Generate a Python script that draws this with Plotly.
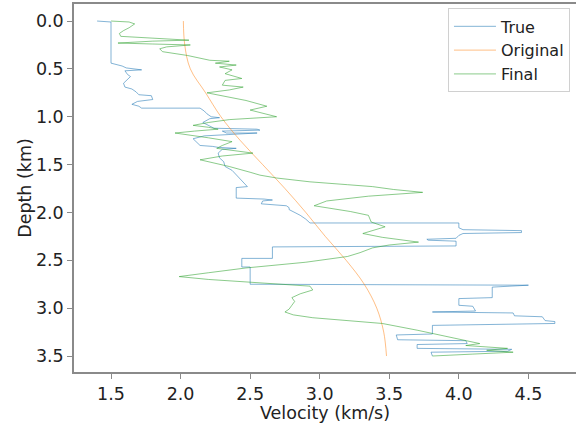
import plotly.graph_objects as go

# Original (initial) velocity model
orig_depth = [0, 0.25, 0.5, 0.75, 1.0, 1.25, 1.5, 1.75, 2.0, 2.25, 2.5, 2.75, 3.0, 3.25, 3.5]
orig_vel = [2.02, 2.03, 2.07, 2.18, 2.29, 2.43, 2.59, 2.75, 2.90, 3.04, 3.19, 3.32, 3.41, 3.46, 3.48]

# True velocity profile
true_pts = [(0.00,1.40),(0.01,1.50),(0.44,1.50),(0.47,1.58),(0.49,1.61),(0.51,1.72),(0.52,1.60),
            (0.56,1.62),(0.58,1.64),(0.62,1.61),(0.65,1.59),(0.69,1.60),(0.71,1.65),(0.74,1.68),
            (0.77,1.70),(0.78,1.79),(0.82,1.80),(0.84,1.69),(0.87,1.65),(0.89,1.70),(0.91,1.72),
            (0.91,2.14),(0.94,2.17),(0.97,2.19),(1.00,2.22),(1.01,2.28),(1.02,2.21),(1.06,2.16),
            (1.09,2.20),(1.12,2.24),(1.13,2.55),(1.14,2.57),(1.15,2.30),(1.17,2.33),(1.17,2.55),
            (1.18,2.45),(1.20,2.17),(1.23,2.09),(1.27,2.12),(1.30,2.14),(1.31,2.23),(1.32,2.27),
            (1.33,2.40),(1.34,2.30),(1.38,2.27),(1.43,2.28),(1.47,2.31),(1.52,2.32),(1.56,2.37),
            (1.62,2.41),(1.68,2.45),(1.73,2.48),(1.74,2.40),(1.85,2.40),(1.86,2.60),(1.87,2.66),
            (1.88,2.59),(1.91,2.58),(1.93,2.76),(1.95,2.78),(1.97,2.78),(1.99,2.81),(2.03,2.86),
            (2.07,2.90),(2.11,2.93),(2.11,4.00),(2.16,4.00),(2.18,4.03),(2.19,4.45),(2.21,4.45),
            (2.22,4.03),(2.24,4.00),(2.27,3.98),(2.28,3.77),(2.29,3.78),(2.30,3.98),(2.35,3.98),
            (2.36,2.66),(2.48,2.66),(2.48,2.44),(2.57,2.44),(2.57,2.50),(2.75,2.50),(2.76,4.50),
            (2.78,4.24),(2.89,4.24),(2.90,4.00),(2.97,4.00),(2.98,4.10),(3.03,4.12),(3.04,3.81),
            (3.05,4.39),(3.08,4.40),(3.09,4.60),(3.13,4.62),(3.14,4.69),(3.16,4.69),(3.18,3.81),
            (3.27,3.81),(3.28,3.55),(3.33,3.56),(3.34,4.05),(3.37,4.06),(3.38,3.70),(3.42,3.70),
            (3.43,4.38),(3.45,4.35),(3.46,3.80),(3.50,3.81)]
true_depth = [p[0] for p in true_pts]
true_vel = [p[1] for p in true_pts]

# Final (inverted) velocity profile
final_pts = [(0.00,1.50),(0.01,1.63),(0.03,1.67),(0.07,1.63),(0.10,1.59),(0.13,1.56),(0.16,1.57),
             (0.19,2.02),(0.20,2.06),(0.21,1.80),(0.23,1.55),(0.24,1.80),(0.25,2.07),(0.27,1.90),
             (0.29,1.85),(0.32,1.87),(0.36,2.05),(0.41,2.21),(0.42,2.35),(0.44,2.25),(0.46,2.40),
             (0.48,2.28),(0.51,2.37),(0.55,2.32),(0.60,2.44),(0.62,2.32),(0.67,2.30),(0.69,2.45),
             (0.72,2.35),(0.75,2.19),(0.79,2.33),(0.83,2.47),(0.89,2.62),(0.93,2.50),(1.00,2.69),
             (1.03,2.35),(1.06,2.20),(1.09,2.09),(1.11,2.20),(1.13,2.27),(1.15,2.10),(1.17,1.96),
             (1.22,2.20),(1.26,2.37),(1.30,2.30),(1.33,2.26),(1.38,2.52),(1.41,2.30),(1.45,2.14),
             (1.52,2.35),(1.58,2.50),(1.61,2.57),(1.64,2.69),(1.68,2.93),(1.71,3.20),(1.73,3.38),
             (1.76,3.53),(1.79,3.74),(1.83,3.35),(1.88,3.05),(1.93,2.96),(1.96,3.10),(1.99,3.22),
             (2.03,3.35),(2.10,3.37),(2.15,3.47),(2.19,3.38),(2.22,3.31),(2.26,3.45),(2.31,3.71),
             (2.34,3.50),(2.37,3.38),(2.42,3.29),(2.46,3.20),(2.52,2.90),(2.58,2.47),(2.63,2.20),
             (2.67,1.99),(2.70,2.20),(2.73,2.50),(2.77,2.93),(2.81,2.95),(2.85,2.86),(2.89,2.80),
             (2.93,2.82),(2.97,2.80),(3.01,2.78),(3.04,2.75),(3.07,2.81),(3.10,2.95),(3.16,3.45),
             (3.23,3.70),(3.31,3.96),(3.35,4.10),(3.37,4.15),(3.39,4.05),(3.42,4.35),(3.44,4.20),
             (3.46,4.39),(3.48,4.10),(3.50,3.81)]
final_depth = [p[0] for p in final_pts]
final_vel = [p[1] for p in final_pts]

x_ticks = [1.5, 2.0, 2.5, 3.0, 3.5, 4.0, 4.5]
y_ticks = [0.0, 0.5, 1.0, 1.5, 2.0, 2.5, 3.0, 3.5]

FONT = "DejaVu Sans"
FS = 17.5

fig = go.Figure()
fig.add_trace(go.Scatter(x=true_vel, y=true_depth, mode="lines", name="True",
                         line=dict(color="rgba(31,119,180,0.55)", width=1)))
fig.add_trace(go.Scatter(x=orig_vel, y=orig_depth, mode="lines", name="Original",
                         line=dict(color="rgba(255,127,14,0.5)", width=1, shape="spline")))
fig.add_trace(go.Scatter(x=final_vel, y=final_depth, mode="lines", name="Final",
                         line=dict(color="rgba(44,160,44,0.55)", width=1)))

fig.update_layout(
    width=576, height=423,
    margin=dict(l=74, r=0, t=4, b=51),
    paper_bgcolor="white", plot_bgcolor="white",
    font=dict(family=FONT, size=FS, color="#222"),
    showlegend=True,
    legend=dict(x=0.988, y=0.988, xanchor="right", yanchor="top",
                bgcolor="rgba(255,255,255,0.8)", bordercolor="#d0d0d0", borderwidth=1,
                font=dict(family=FONT, size=16, color="#222"),
                tracegroupgap=0, itemwidth=42),
    xaxis=dict(range=[1.234, 4.842], tickvals=x_ticks, ticktext=[f"{v:.1f}" for v in x_ticks],
               showgrid=False, zeroline=False, showline=True, linecolor="#8a8a8a", linewidth=1.5,
               mirror=True, ticks="outside", ticklen=5, tickcolor="#8a8a8a", tickwidth=1.2,
               title=dict(text="Velocity (km/s)", standoff=8, font=dict(size=FS))),
    yaxis=dict(range=[3.667, -0.178], tickvals=y_ticks, ticktext=[f"{v:.1f}" for v in y_ticks],
               showgrid=False, zeroline=False, showline=True, linecolor="#8a8a8a", linewidth=1.5,
               ticks="outside", ticklen=5, tickcolor="#8a8a8a", tickwidth=1.2,
               title=dict(text="Depth (km)", standoff=0, font=dict(size=FS))),
)

fig.write_html("out.html")
